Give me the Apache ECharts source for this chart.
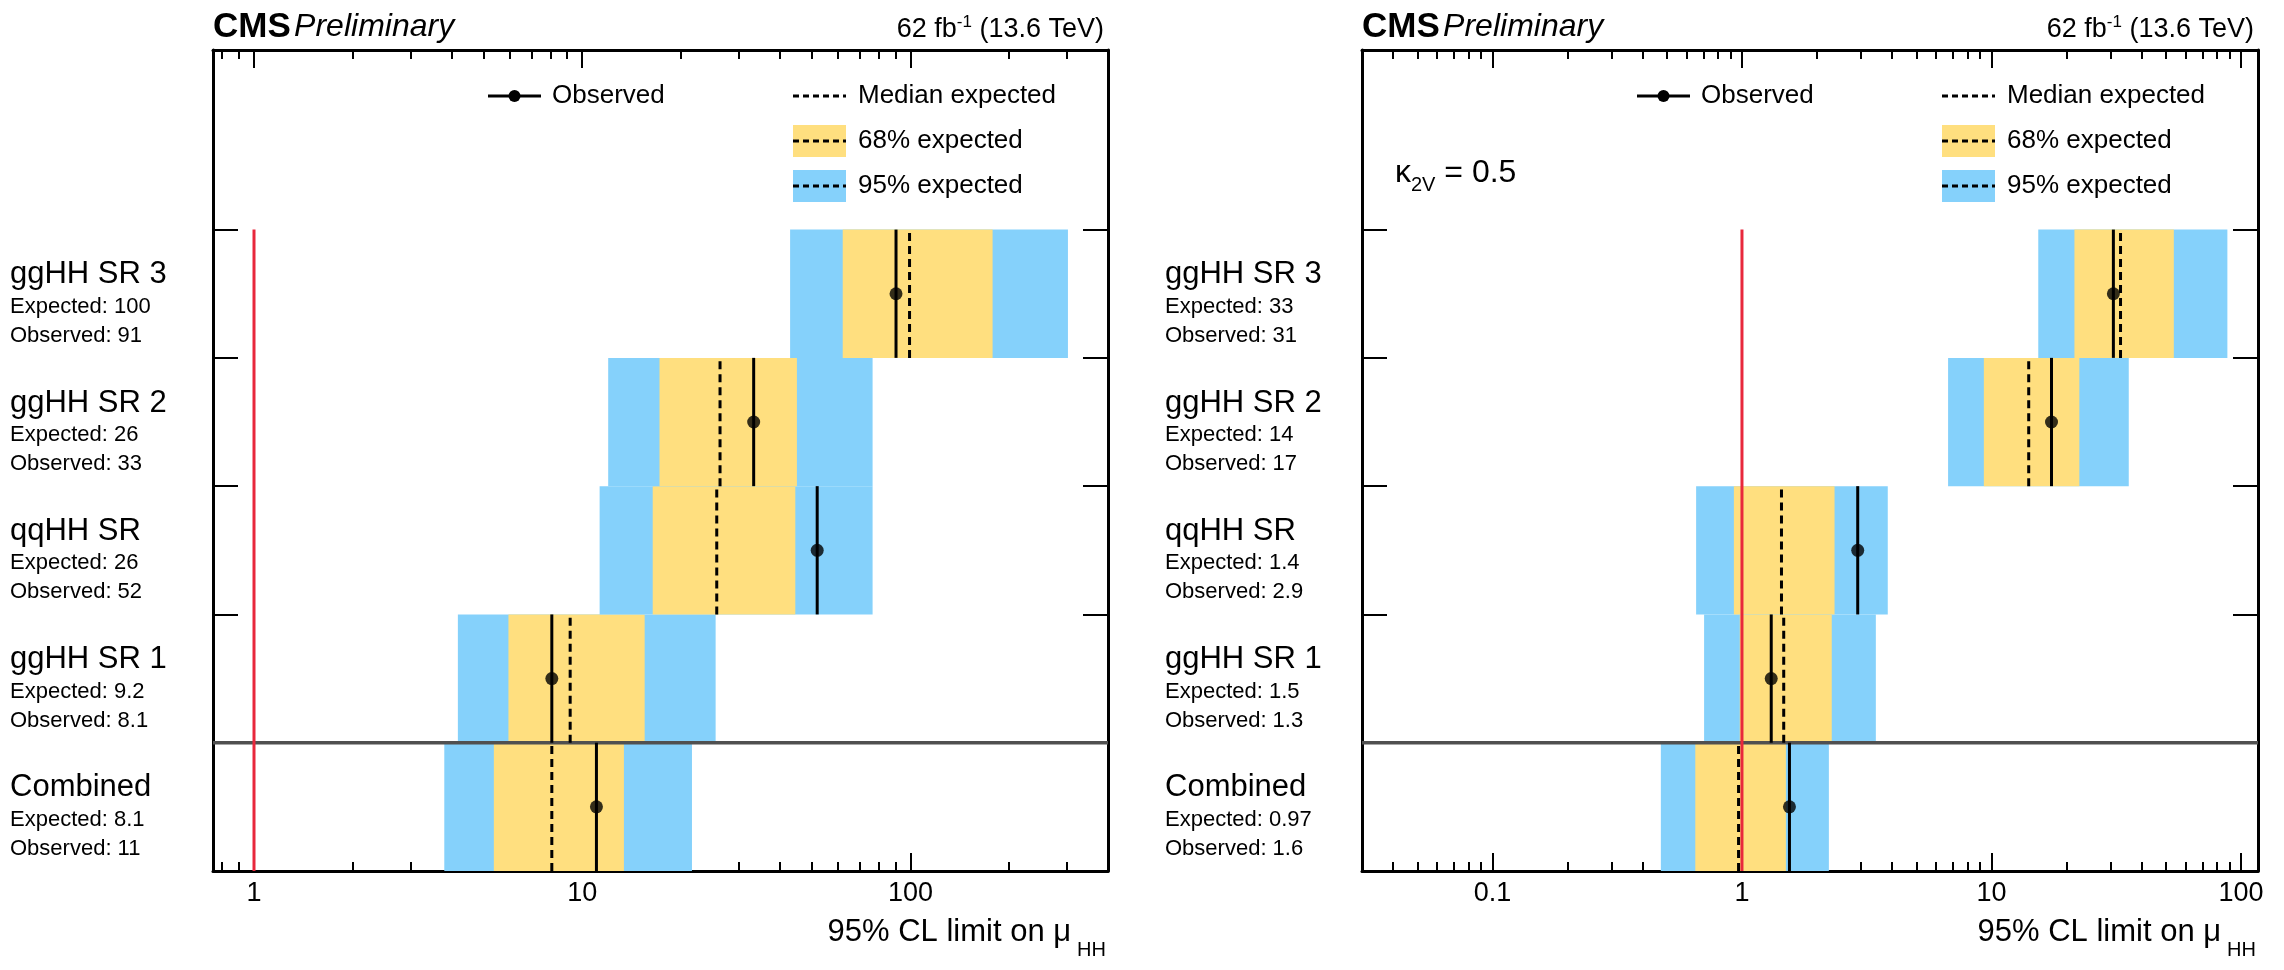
<!DOCTYPE html>
<html>
<head>
<meta charset="utf-8">
<script src="https://cdn.jsdelivr.net/npm/echarts@6/dist/echarts.min.js"></script>
<style>
html, body { margin: 0; padding: 0; background: #fff; }
#chartDiv { width: 2284px; height: 970px; }
</style>
</head>
<body>
<div id="chartDiv"></div>
<script>
// rows, bottom to top
var rowNames = ["Combined", "ggHH SR 1", "qqHH SR", "ggHH SR 2", "ggHH SR 3"];

// left panel (SM)
var expTextL = ["8.1", "9.2", "26", "26", "100"];
var obsTextL = ["11", "8.1", "52", "33", "91"];
var obsL = [11.05, 8.08, 52.0, 33.3, 90.4];
var expL = [8.08, 9.19, 25.7, 26.3, 99.4];
var lo68L = [5.38, 5.96, 16.4, 17.2, 62.2];
var hi68L = [13.4, 15.5, 44.6, 45.1, 178];
var lo95L = [3.80, 4.18, 11.3, 12.0, 43.0];
var hi95L = [21.6, 25.5, 76.7, 76.7, 302];

// right panel (kappa_2V = 0.5)
var expTextR = ["0.97", "1.5", "1.4", "14", "33"];
var obsTextR = ["1.6", "1.3", "2.9", "17", "31"];
var obsR = [1.55, 1.31, 2.91, 17.4, 30.8];
var expR = [0.969, 1.47, 1.44, 14.1, 32.9];
var lo68R = [0.650, 0.98, 0.928, 9.32, 21.5];
var hi68R = [1.50, 2.29, 2.35, 22.5, 53.8];
var lo95R = [0.473, 0.705, 0.655, 6.70, 15.4];
var hi95R = [2.23, 3.44, 3.84, 35.5, 88.2];

// SM reference line
var smLine = [[1, 0, 5]];
// line between combined and the single regions
var splitRow = [[1]];

// tick values
var majorL = [1, 10, 100];
var minorL = [0.8, 0.9, 2, 3, 4, 5, 6, 7, 8, 9, 20, 30, 40, 50, 60, 70, 80, 90, 200, 300];
var majorR = [0.1, 1, 10, 100];
var minorR = [0.04, 0.05, 0.06, 0.07, 0.08, 0.09, 0.2, 0.3, 0.4, 0.5, 0.6, 0.7, 0.8, 0.9,
  2, 3, 4, 5, 6, 7, 8, 9, 20, 30, 40, 50, 60, 70, 80, 90];
var rowTicks = [1, 2, 3, 4, 5];
var rowCenters = [0.5, 1.5, 2.5, 3.5, 4.5];

var FONT = "'Liberation Sans', Arial, Helvetica, sans-serif";
var C68 = "#ffdf7f", C95 = "#85d1fb", RED = "#e8283c";
var TOP = 50, HEIGHT = 821, YMAX = 6.4;

var myChart = echarts.init(document.getElementById("chartDiv"));

var grids = [], xAxes = [], yAxes = [], series = [], graphics = [];

function fmt(v) {
  return String(+Number(v).toPrecision(6));
}

function makeX(g, pos, p, major) {
  return {
    type: "log", logBase: 10, gridIndex: g, position: pos,
    min: p.xMin, max: p.xMax,
    axisLine: { show: major, onZero: false, lineStyle: { color: "#000", width: 3 } },
    axisTick: {
      show: true, inside: true, length: major ? 18 : 9,
      customValues: major ? p.major : p.minor,
      lineStyle: { color: "#000", width: 2 }
    },
    axisLabel: {
      show: major && pos === "bottom", customValues: p.major, formatter: fmt,
      fontSize: 27, fontFamily: FONT, color: "#000", margin: 9
    },
    splitLine: { show: false },
    minorTick: { show: false }
  };
}

function makeY(g, pos, p) {
  return {
    type: "value", gridIndex: g, position: pos, min: 0, max: YMAX,
    axisLine: { show: true, onZero: false, lineStyle: { color: "#000", width: 3 } },
    axisTick: { show: true, inside: true, length: 25, customValues: rowTicks,
      lineStyle: { color: "#000", width: 2 } },
    axisLabel: {
      show: pos === "left", customValues: rowCenters, align: "left",
      margin: p.labelMargin, padding: [20, 0, 0, 0],
      formatter: function (v) {
        var i = Math.floor(v);
        return "{n|" + rowNames[i] + "}\n{e|Expected: " + p.expText[i] + "}\n{e|Observed: " + p.obsText[i] + "}";
      },
      rich: {
        n: { fontSize: 31, lineHeight: 35, fontFamily: FONT, color: "#000" },
        e: { fontSize: 22, lineHeight: 29, fontFamily: FONT, color: "#000" }
      }
    },
    splitLine: { show: false }
  };
}

function renderBands(params, api) {
  var r = api.value(4);
  var a = api.coord([api.value(0), r + 1]), b = api.coord([api.value(1), r]);
  var c = api.coord([api.value(2), r + 1]), d = api.coord([api.value(3), r]);
  return {
    type: "group",
    children: [
      { type: "rect", shape: { x: a[0], y: a[1], width: b[0] - a[0], height: b[1] - a[1] }, style: { fill: C95 } },
      { type: "rect", shape: { x: c[0], y: c[1], width: d[0] - c[0], height: d[1] - c[1] }, style: { fill: C68 } }
    ]
  };
}

function vLine(color, dash) {
  return function (params, api) {
    var v = api.value(0), r = api.value(1);
    var p0 = api.coord([v, r]), p1 = api.coord([v, r + api.value(2)]);
    return {
      type: "line",
      shape: { x1: p0[0], y1: p0[1], x2: p1[0], y2: p1[1] },
      style: { stroke: color, lineWidth: 3, lineDash: dash }
    };
  };
}

function addPanel(p) {
  var g = grids.length;
  grids.push({ left: p.left, top: TOP, width: p.width, height: HEIGHT });
  var xi = xAxes.length, yi = yAxes.length;
  xAxes.push(makeX(g, "bottom", p, true));
  xAxes.push(makeX(g, "bottom", p, false));
  xAxes.push(makeX(g, "top", p, true));
  xAxes.push(makeX(g, "top", p, false));
  yAxes.push(makeY(g, "left", p));
  yAxes.push(makeY(g, "right", p));

  var rows = p.obs.map(function (v, i) { return i; });
  var base = { type: "custom", xAxisIndex: xi, yAxisIndex: yi, silent: true, animation: false };

  series.push(Object.assign({}, base, {
    z: 1, renderItem: renderBands,
    data: rows.map(function (i) { return [p.lo95[i], p.hi95[i], p.lo68[i], p.hi68[i], i]; })
  }));
  series.push(Object.assign({}, base, {
    z: 2, data: splitRow,
    renderItem: function (params, api) {
      var cs = params.coordSys;
      var y = api.coord([p.xMin, api.value(0)])[1];
      return { type: "line", shape: { x1: cs.x, y1: y, x2: cs.x + cs.width, y2: y },
        style: { stroke: "#505050", lineWidth: 3.5 } };
    }
  }));
  series.push(Object.assign({}, base, {
    z: 3, data: smLine, renderItem: vLine(RED, null)
  }));
  series.push(Object.assign({}, base, {
    z: 4, renderItem: vLine("#000", [8, 5]),
    data: rows.map(function (i) { return [p.exp[i], i, 1]; })
  }));
  series.push(Object.assign({}, base, {
    z: 4, renderItem: vLine("#000", null),
    data: rows.map(function (i) { return [p.obs[i], i, 1]; })
  }));
  series.push({
    type: "scatter", xAxisIndex: xi, yAxisIndex: yi, z: 5, silent: true, animation: false,
    symbol: "circle", symbolSize: 13, itemStyle: { color: "#000" },
    data: rows.map(function (i) { return [p.obs[i], i + 0.5]; })
  });

  // header texts
  var L = p.left, R = p.left + p.width;
  graphics.push({
    type: "text", x: L, y: 27,
    style: {
      text: "{c|CMS} {p|Preliminary}", verticalAlign: "middle", align: "left",
      rich: {
        c: { fontSize: 35, fontWeight: "bold", fontFamily: FONT, fill: "#000" },
        p: { fontSize: 32, fontStyle: "italic", fontFamily: FONT, fill: "#000" }
      }
    }
  });
  graphics.push({
    type: "text", x: R - 4, y: 30,
    style: {
      text: "{t|62 fb}{s|-1}{t| (13.6 TeV)}", align: "right", verticalAlign: "middle",
      rich: {
        t: { fontSize: 27, lineHeight: 33, fontFamily: FONT, fill: "#000" },
        s: { fontSize: 17, lineHeight: 17, verticalAlign: "top", fontFamily: FONT, fill: "#000" }
      }
    }
  });
  graphics.push({
    type: "text", x: R - 2, y: 932,
    style: {
      text: "{t|95% CL limit on μ}{s|HH}", align: "right", verticalAlign: "middle",
      rich: {
        t: { fontSize: 31, lineHeight: 57, fontFamily: FONT, fill: "#000" },
        s: { fontSize: 20, lineHeight: 20, verticalAlign: "bottom", padding: [0, 0, 0, 6], fontFamily: FONT, fill: "#000" }
      }
    }
  });

  // legend
  var legText = function (x, y, t) {
    return { type: "text", x: x, y: y, z: 10,
      style: { text: t, fontSize: 26, fontFamily: FONT, fill: "#000", verticalAlign: "middle", align: "left" } };
  };
  var dash = function (x, y) {
    return { type: "line", z: 10, shape: { x1: x, y1: y, x2: x + 53, y2: y },
      style: { stroke: "#000", lineWidth: 3, lineDash: [6, 4] } };
  };
  var y1 = 96, y2 = 141, y3 = 186;
  graphics.push({ type: "line", z: 10, shape: { x1: L + 275, y1: y1, x2: L + 328, y2: y1 },
    style: { stroke: "#000", lineWidth: 3 } });
  graphics.push({ type: "circle", z: 10, shape: { cx: L + 301.5, cy: y1, r: 6 }, style: { fill: "#000" } });
  graphics.push(legText(L + 339, y1, "Observed"));
  graphics.push(dash(L + 580, y1));
  graphics.push(legText(L + 645, y1, "Median expected"));
  graphics.push({ type: "rect", z: 9, shape: { x: L + 580, y: y2 - 16, width: 53, height: 32 }, style: { fill: C68 } });
  graphics.push(dash(L + 580, y2));
  graphics.push(legText(L + 645, y2, "68% expected"));
  graphics.push({ type: "rect", z: 9, shape: { x: L + 580, y: y3 - 16, width: 53, height: 32 }, style: { fill: C95 } });
  graphics.push(dash(L + 580, y3));
  graphics.push(legText(L + 645, y3, "95% expected"));

  if (p.note) {
    graphics.push({
      type: "text", x: L + 33, y: 173,
      style: {
        text: "{k|κ}{s|2V}{k| = 0.5}", verticalAlign: "middle", align: "left",
        rich: {
          k: { fontSize: 32, lineHeight: 44, fontFamily: FONT, fill: "#000" },
          s: { fontSize: 20, lineHeight: 20, verticalAlign: "bottom", fontFamily: FONT, fill: "#000" }
        }
      }
    });
  }
}

addPanel({
  left: 213, width: 895, xMin: 0.75, xMax: 400, major: majorL, minor: minorL, labelMargin: 203,
  obs: obsL, exp: expL, lo68: lo68L, hi68: hi68L, lo95: lo95L, hi95: hi95L,
  expText: expTextL, obsText: obsTextL, note: false
});
addPanel({
  left: 1362, width: 896, xMin: 0.03, xMax: 117, major: majorR, minor: minorR, labelMargin: 197,
  obs: obsR, exp: expR, lo68: lo68R, hi68: hi68R, lo95: lo95R, hi95: hi95R,
  expText: expTextR, obsText: obsTextR, note: true
});

var option = {
  animation: false,
  backgroundColor: "#fff",
  textStyle: { fontFamily: FONT },
  grid: grids,
  xAxis: xAxes,
  yAxis: yAxes,
  series: series,
  graphic: graphics
};

myChart.setOption(option);

window.addEventListener("resize", function () {
  myChart.resize();
});
</script>
</body>
</html>
